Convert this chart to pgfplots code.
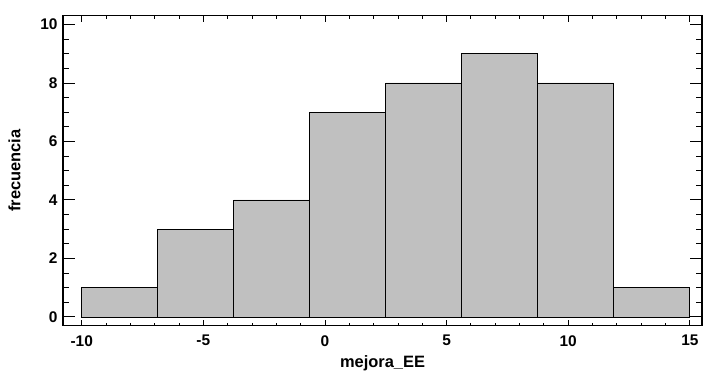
\documentclass[border=0pt]{standalone}
\usepackage{fontspec}
\setmainfont{Liberation Sans}
\usepackage{pgfplots}
\pgfplotsset{compat=1.18}
\definecolor{barfill}{HTML}{C0C0C0}
\pgfplotsset{common/.style={
  scale only axis,
  width=639bp, height=310bp,
  xmin=-10.77, xmax=15.5,
  ymin=-0.3, ymax=10.3,
  tick align=inside,
  axis line style={line width=1.1bp},
  every tick/.style={black, line width=0.9bp},
  /pgf/number format/assume math mode=true,
  tick label style={font=\bfseries\fontsize{15.5}{15.5}\selectfont},
  label style={font=\bfseries\fontsize{16.5}{16.5}\selectfont},
}}
\begin{document}
\begin{tikzpicture}
\begin{axis}[
  common,
  name=ax,
  xtick={-10,-5,0,5,10,15},
  ytick=\empty,
  minor x tick num=4,
  major tick length=6bp,
  minor tick length=3bp,
  xticklabel style={yshift=-6bp},
  xlabel={mejora\_EE},
  xlabel style={yshift=-2.5bp},
]
\addplot[ybar interval, fill=barfill, draw=black, line width=0.8bp]
  coordinates {(-10,1) (-6.875,3) (-3.75,4) (-0.625,7) (2.5,8) (5.625,9) (8.75,8) (11.875,1) (15,1)};
\end{axis}
\begin{axis}[
  common,
  at={(ax.south west)}, anchor=south west,
  xtick=\empty,
  ytick={0,2,4,6,8,10},
  minor y tick num=3,
  major tick length=12bp,
  minor tick length=6bp,
  yticklabel style={xshift=-2bp},
  ylabel={frecuencia},
  ylabel style={yshift=13bp},
]
\end{axis}
\pgfresetboundingbox
\path ([shift={(-63bp,-46bp)}]ax.south west) rectangle ([shift={(1bp,15.7bp)}]ax.north east);
\end{tikzpicture}
\end{document}
